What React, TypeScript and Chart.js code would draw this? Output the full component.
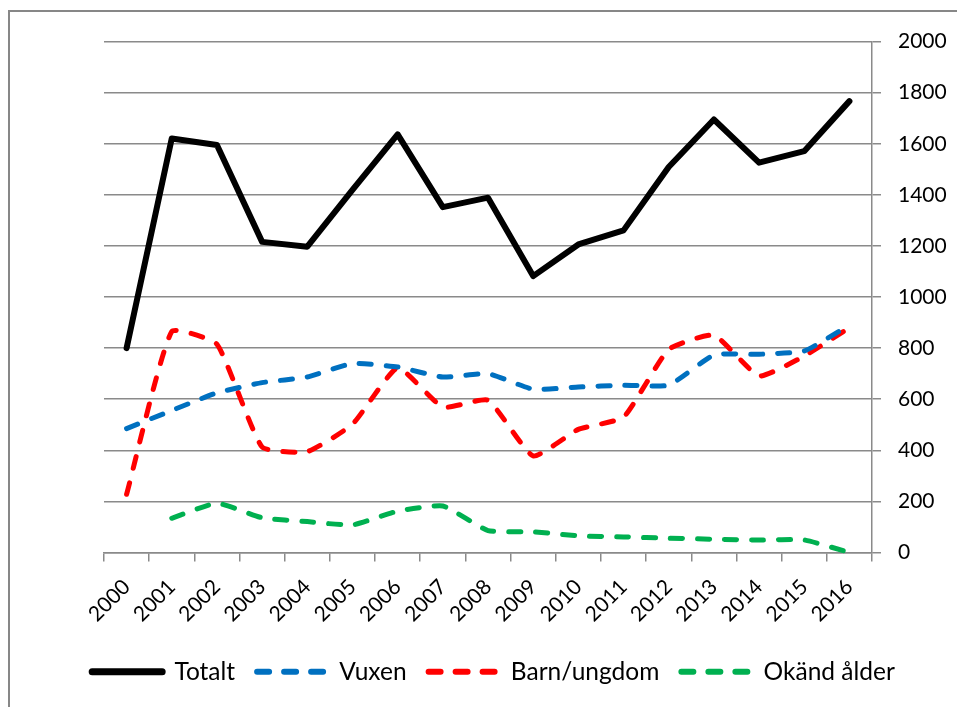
import React, { useEffect, useRef } from "react";
import { Chart, registerables } from "chart.js";

Chart.register(...registerables);

const years = ["2000", "2001", "2002", "2003", "2004", "2005", "2006", "2007", "2008", "2009", "2010", "2011", "2012", "2013", "2014", "2015", "2016"];
const totalt = [800, 1621, 1595, 1216, 1197, 1420, 1637, 1352, 1389, 1082, 1206, 1261, 1509, 1695, 1526, 1571, 1767];
const vuxen = [485, 556, 625, 665, 687, 740, 726, 687, 700, 639, 648, 655, 655, 773, 776, 789, 890];
const barn = [228, 865, 815, 413, 395, 502, 723, 569, 596, 378, 482, 530, 795, 851, 691, 769, 880];
const okand = [null, 134, 193, 136, 121, 108, 162, 182, 86, 81, 65, 61, 56, 52, 49, 49, 0];
const seriesLabels = ["Totalt", "Vuxen", "Barn/ungdom", "Okänd ålder"];
const seriesColors = ["#000000", "#0070C0", "#FF0000", "#00B050"];
const yMin = 0;
const yMax = 2000;
const yStep = 200;

const GRID = "#8a8a8a";
const FONT = "Lato";
const DASH = [12, 15];

export default function App() {
  const ref = useRef<HTMLCanvasElement | null>(null);

  useEffect(() => {
    if (!ref.current) return;
    const values = [totalt, vuxen, barn, okand];
    const chart = new Chart(ref.current, {
      type: "line",
      data: {
        labels: years,
        datasets: values.map((v, i) => ({
          label: seriesLabels[i],
          data: v,
          borderColor: seriesColors[i],
          backgroundColor: seriesColors[i],
          borderWidth: i === 0 ? 6 : 5,
          borderDash: i === 0 ? [] : DASH,
          borderCapStyle: "round" as const,
          borderJoinStyle: "round" as const,
          tension: i === 0 ? 0 : 0.15,
          pointRadius: 0,
          fill: false,
          clip: false as any,
          yAxisID: "y",
        })),
      },
      options: {
        responsive: false,
        animation: false,
        layout: { padding: { left: 20, right: 0, top: 28.5, bottom: 13 } },
        plugins: {
          tooltip: { enabled: false },
          legend: {
            position: "bottom",
            labels: {
              usePointStyle: true,
              pointStyle: "line",
              pointStyleWidth: 70,
              boxHeight: 20,
              padding: 22,
              color: "#000",
              font: { family: FONT, size: 24.5 },
              generateLabels: (c: any) =>
                c.data.datasets.map((ds: any, i: number) => ({
                  text: ds.label,
                  fillStyle: ds.borderColor,
                  strokeStyle: ds.borderColor,
                  lineWidth: i === 0 ? 7 : 6,
                  lineDash: i === 0 ? [] : DASH,
                  lineCap: "round",
                  pointStyle: "line",
                  hidden: false,
                  datasetIndex: i,
                  fontColor: "#000",
                })),
            },
          },
        },
        scales: {
          x: {
            type: "category",
            offset: true,
            grid: {
              display: true,
              drawOnChartArea: false,
              offset: true,
              color: GRID,
              lineWidth: 1.5,
              tickLength: 9,
            },
            border: { display: true, color: GRID, width: 1.5 },
            ticks: {
              color: "#000",
              font: { family: FONT, size: 21 },
              minRotation: 45,
              maxRotation: 45,
              autoSkip: false,
              padding: 13,
            },
            afterFit: (s: any) => {
              s.height = 85;
            },
          },
          yL: {
            type: "linear",
            position: "left",
            display: true,
            grid: { display: false },
            border: { display: false },
            ticks: { display: false },
            afterFit: (s: any) => {
              s.width = 74;
            },
          },
          y: {
            type: "linear",
            position: "right",
            min: yMin,
            max: yMax,
            grid: { color: GRID, lineWidth: 1.5, tickLength: 9, drawOnChartArea: true },
            border: { display: true, color: GRID, width: 1.5 },
            ticks: {
              stepSize: yStep,
              color: "#000",
              font: { family: FONT, size: 21 },
              padding: 17,
              callback: (v: any) => String(v),
            },
            afterFit: (s: any) => {
              s.width = 85;
            },
          },
        },
      },
    });
    return () => chart.destroy();
  }, []);

  return (
    <div
      style={{
        position: "absolute",
        left: 8,
        top: 10,
        width: 947,
        height: 695,
        borderLeft: "2px solid #878787",
        borderTop: "2px solid #878787",
        background: "#fff",
      }}
    >
      <canvas ref={ref} width={947} height={695} style={{ display: "block", width: 947, height: 695 }} />
    </div>
  );
}
